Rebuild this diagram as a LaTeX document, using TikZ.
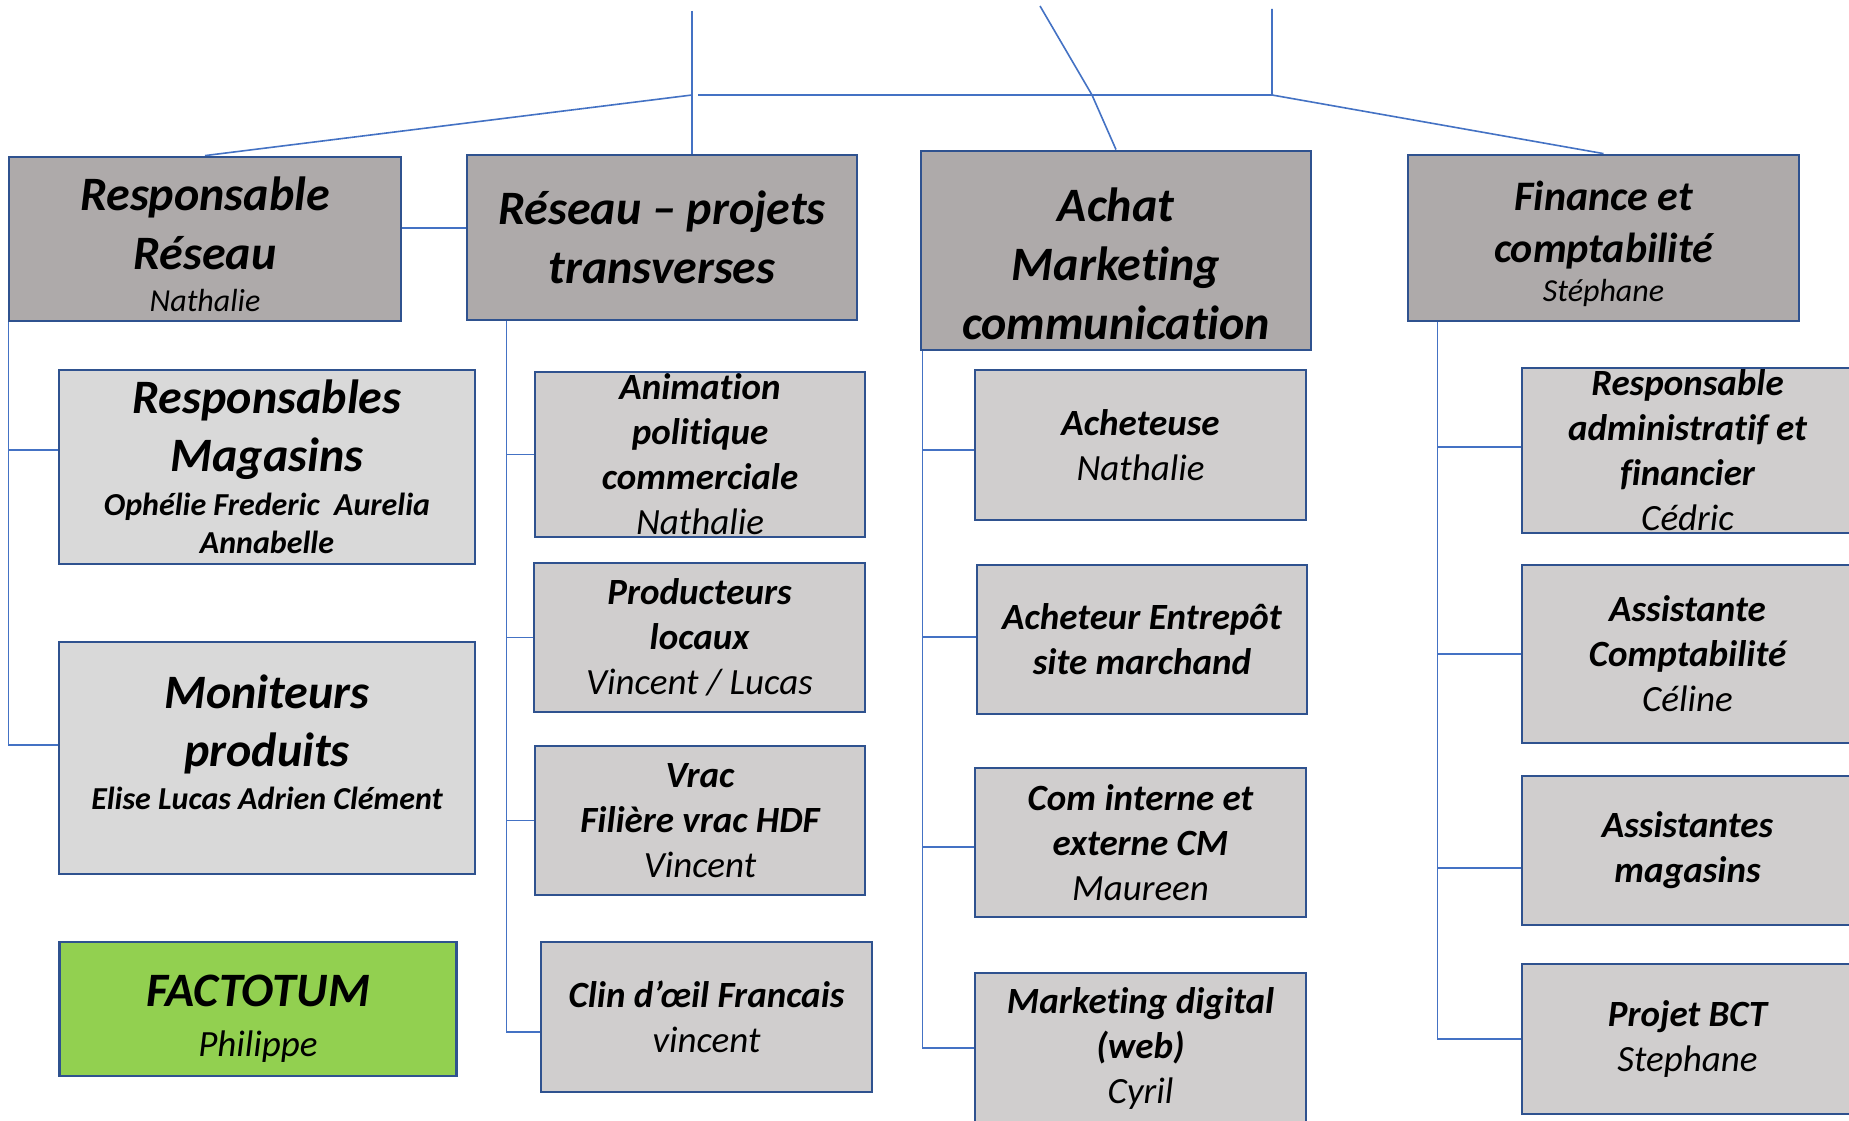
\documentclass[tikz,border=0pt]{standalone}
\usepackage{fontspec}
\setmainfont{Carlito}[Ligatures={NoCommon}]
\usepackage{tikz}
\usetikzlibrary{positioning, backgrounds}
\definecolor{headgray}{HTML}{AEAAAA}
\definecolor{subgray}{HTML}{D0CECE}
\definecolor{storegray}{HTML}{D9D9D9}
\definecolor{factgreen}{HTML}{92D050}
\definecolor{boxline}{HTML}{2F528F}
\definecolor{linkblue}{HTML}{4472C4}

% font sizes (px of the chart)
\newcommand{\orgtitle}{\fontsize{48}{59}\selectfont\bfseries\itshape}
\newcommand{\orgfin}{\fontsize{42}{52}\selectfont\bfseries\itshape}
\newcommand{\orgheadname}{\fontsize{32}{42}\selectfont\mdseries\itshape}
\newcommand{\orgfinname}{\fontsize{32}{39}\selectfont\mdseries\itshape}
\newcommand{\orgbig}{\fontsize{48}{58}\selectfont\bfseries\itshape}
\newcommand{\orgcrew}{\fontsize{32}{38}\selectfont\bfseries\itshape}
\newcommand{\orgfact}{\fontsize{48}{53}\selectfont\bfseries\itshape}
\newcommand{\orgfactname}{\fontsize{37}{50}\selectfont\mdseries\itshape}
\newcommand{\orgsub}{\fontsize{37}{45}\selectfont\bfseries\itshape}
\newcommand{\orgsubname}{\fontsize{37}{45}\selectfont\mdseries\itshape}

\begin{document}
\begin{tikzpicture}[
    x=1pt, y=-1pt,
    orgbox/.style={draw=boxline, line width=2.8pt, align=flush center, inner sep=0pt},
    headbox/.style={orgbox, fill=headgray, text width=380pt, font=\orgtitle},
    storebox/.style={orgbox, fill=storegray, text width=405pt, font=\orgbig},
    subbox/.style={orgbox, fill=subgray, text width=322pt, font=\orgsub},
    link/.style={draw=linkblue, line width=1.6pt}
  ]
  \useasboundingbox (0,0) rectangle (1849,1121);

  % Top level
  \node[headbox, minimum width=392pt, minimum height=164pt] (resp) at (205,239)
    {\rule{0pt}{44pt}Responsable\\Réseau\par{\orgheadname Nathalie\par}};
  \node[headbox, minimum width=390pt, minimum height=165pt] (rpt) at (662,237.5)
    {Réseau – projets\\transverses};
  \node[headbox, minimum width=390pt, minimum height=199pt] (amc) at (1116,250.5)
    {\rule{0pt}{60pt}Achat\\Marketing\\communication};
  \node[headbox, font=\orgfin, minimum width=391pt, minimum height=166pt] (fin) at (1603.5,238)
    {\rule{0pt}{42pt}Finance et\\comptabilité\par{\orgfinname Stéphane\par}};

  % Responsable Reseau column
  \node[storebox, minimum width=416pt, minimum height=194pt] (mag) at (267,467)
    {Responsables\\Magasins\par\vspace{6pt}{\orgcrew Ophélie Frederic~ Aurelia\\Annabelle\par}};
  \node[storebox, minimum width=416pt, minimum height=232pt] (mon) at (267,758)
    {Moniteurs\\produits\par\vspace{5pt}{\orgcrew Elise Lucas Adrien Clément\rule[-32pt]{0pt}{32pt}\par}};
  \node[storebox, fill=factgreen, font=\orgfact, text width=370pt, minimum width=397pt, minimum height=134pt] (fact) at (258,1009)
    {\rule{0pt}{50pt}FACTOTUM\par{\orgfactname Philippe\par}};

  % Reseau - projets column
  \node[subbox, minimum width=330pt, minimum height=165pt] (ani) at (700,454.5)
    {Animation\\politique\\commerciale\par{\orgsubname Nathalie\par}};
  \node[subbox, minimum width=331pt, minimum height=149pt] (prod) at (699.5,637.5)
    {Producteurs\\locaux\par{\orgsubname Vincent / Lucas\par}};
  \node[subbox, minimum width=330pt, minimum height=149pt] (vrac) at (700,820.5)
    {Vrac\\Filière vrac HDF\par{\orgsubname Vincent\par}};
  \node[subbox, minimum width=331pt, minimum height=150pt] (clin) at (706.5,1017)
    {Clin d’œil Francais\par{\orgsubname vincent\par}};

  % Achat column
  \node[subbox, minimum width=331pt, minimum height=150pt] (ach) at (1140.5,445)
    {Acheteuse\par{\orgsubname Nathalie\par}};
  \node[subbox, minimum width=330pt, minimum height=149pt] (entr) at (1142,639.5)
    {Acheteur Entrepôt\\site marchand};
  \node[subbox, minimum width=331pt, minimum height=149pt] (com) at (1140.5,842.5)
    {Com interne et\\externe CM\par{\orgsubname Maureen\par}};
  \node[subbox, minimum width=331pt, minimum height=150pt] (mkt) at (1140.5,1048)
    {Marketing digital\\(web)\par{\orgsubname Cyril\par}};

  % Finance column
  \node[subbox, minimum width=331pt, minimum height=165pt] (raf) at (1687.5,450.5)
    {Responsable\\administratif et\\financier\par{\orgsubname Cédric\par}};
  \node[subbox, minimum width=331pt, minimum height=178pt] (asco) at (1687.5,654)
    {Assistante\\Comptabilité\par{\orgsubname Céline\par}};
  \node[subbox, minimum width=331pt, minimum height=149pt] (asma) at (1687.5,850.5)
    {Assistantes\\magasins};
  \node[subbox, minimum width=331pt, minimum height=150pt] (bct) at (1687.5,1039)
    {Projet BCT\par{\orgsubname Stephane\par}};

  % Connectors
  \coordinate (topL) at (692,11);
  \coordinate (hubL) at (692,95);
  \coordinate (topR) at (1272,9);
  \coordinate (hubR) at (1272,95);
  \coordinate (topM) at (1040,6);
  \coordinate (kink) at (1092,95);
  \begin{scope}[on background layer]
    \fill[white] (0,0) rectangle (1849,1121);
    \draw[link] (topL) -- (topL |- rpt.north);
    \draw[link] (hubL) -- (resp.north);
    \draw[link] ([xshift=6pt]hubL) -- (hubR);
    \draw[link] (topR) -- (hubR) -- (fin.north);
    \draw[link] (topM) -- (kink) -- (amc.north);
    \draw[link] ([yshift=11pt]resp.east) -- ([yshift=11pt]resp.east -| rpt.west);

    \draw[link] ([xshift=1pt]resp.south west) |- ([yshift=17pt]mag.west);
    \draw[link] ([xshift=1pt]resp.south west) |- ([yshift=13pt]mon.west);

    \draw[link] ([xshift=41pt]rpt.south west) |- (ani.west);
    \draw[link] ([xshift=41pt]rpt.south west) |- (prod.west);
    \draw[link] ([xshift=41pt]rpt.south west) |- (vrac.west);
    \draw[link] ([xshift=41pt]rpt.south west) |- ([yshift=-15pt]clin.west);

    \draw[link] ([xshift=3pt]amc.south west) |- ([yshift=-5pt]ach.west);
    \draw[link] ([xshift=3pt]amc.south west) |- ([yshift=2.5pt]entr.west);
    \draw[link] ([xshift=3pt]amc.south west) |- ([yshift=-4.5pt]com.west);
    \draw[link] ([xshift=3pt]amc.south west) |- (mkt.west);

    \draw[link] ([xshift=31pt]fin.south west) |- ([yshift=3.5pt]raf.west);
    \draw[link] ([xshift=31pt]fin.south west) |- (asco.west);
    \draw[link] ([xshift=31pt]fin.south west) |- ([yshift=-17.5pt]asma.west);
    \draw[link] ([xshift=31pt]fin.south west) |- (bct.west);
  \end{scope}
\end{tikzpicture}
\end{document}
